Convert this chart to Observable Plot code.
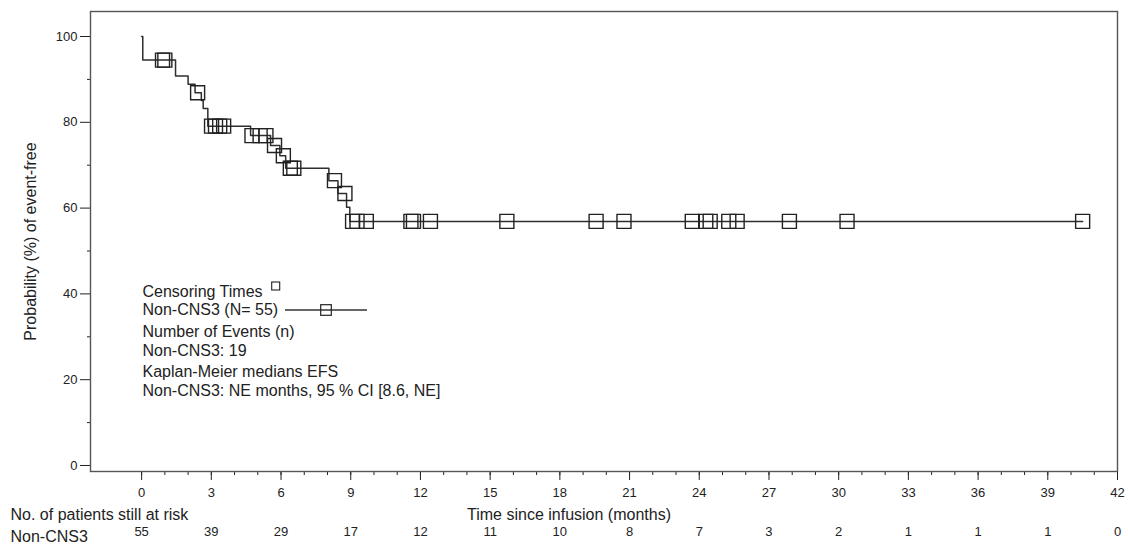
<!DOCTYPE html>
<html><head><meta charset="utf-8">
<script src="https://cdn.jsdelivr.net/npm/d3@7"></script>
<script src="https://cdn.jsdelivr.net/npm/@observablehq/plot@0.6"></script>
<style>
body{margin:0;background:#fff;}
#chart svg{display:block;}
</style>
</head><body><div id="chart"></div>
<script>
// Kaplan-Meier steps (time in months, survival %)
const stepTimes = [0, 0.05, 1.46, 2.0, 2.3, 2.57, 2.65, 2.85, 4.69, 5.55, 5.95, 6.2, 8.06, 8.45, 8.82, 8.96];
const stepSurv  = [100, 94.5, 90.8, 88.9, 86.9, 85.1, 83.2, 79.1, 76.9, 74.6, 72.2, 69.3, 66.4, 63.4, 60.2, 56.9];
// censoring times (months)
const censorTimes = [0.9, 1.0, 2.41, 3.01, 3.18, 3.36, 3.53, 4.75, 5.1, 5.35, 5.72, 6.1, 6.4, 6.55,
  8.3, 8.75, 9.08, 9.27, 9.67, 11.59, 11.7, 12.43, 15.72, 19.56, 20.76, 23.7, 24.28, 24.47,
  25.27, 25.63, 27.88, 30.36, 40.5];
const lastFollowUp = 40.5;
// risk table
const riskTimes  = [0, 3, 6, 9, 12, 15, 18, 21, 24, 27, 30, 33, 36, 39, 42];
const riskCounts = [55, 39, 29, 17, 12, 11, 10, 8, 7, 3, 2, 1, 1, 1, 0];
// axis ticks
const xTicks = [0, 3, 6, 9, 12, 15, 18, 21, 24, 27, 30, 33, 36, 39, 42];
const xMinorTicks = d3.range(0, 43, 1);
const yTicks = [0, 20, 40, 60, 80, 100];
const yMinorTicks = [10, 30, 50, 70, 90];
// texts
const legendLines = ["Censoring Times", "Non-CNS3 (N= 55)", "Number of Events (n)", "Non-CNS3: 19",
  "Kaplan-Meier medians EFS", "Non-CNS3: NE months, 95 % CI [8.6, NE]"];
const yLabel = "Probability (%) of event-free";
const xLabel = "Time since infusion (months)";
const riskTitle = "No. of patients still at risk";
const groupName = "Non-CNS3";

// derived tables
const curve = stepTimes.map((t, i) => ({t, s: stepSurv[i]}));
curve.push({t: lastFollowUp, s: stepSurv[stepSurv.length - 1]});
const survAt = t => { let s = 100; for (let i = 0; i < stepTimes.length; i++) if (stepTimes[i] <= t) s = stepSurv[i]; return s; };
const censors = censorTimes.map(t => ({t, s: survAt(t)}));
const risk = riskTimes.map((t, i) => ({t, n: riskCounts[i]}));

const FONT = "'Liberation Sans', Arial, sans-serif";
const legendDy = [280.7, 298.3, 320.7, 339, 360.7, 379];

function legendGlyphs(index, scales, values, dims) {
  const g = d3.create("svg:g").attr("fill", "none").attr("stroke", "#222");
  const ox = dims.marginLeft, oy = dims.marginTop;
  g.append("rect").attr("x", ox + 185.7 - 4).attr("y", oy + 275 - 4).attr("width", 8).attr("height", 8).attr("stroke-width", 1.1);
  g.append("line").attr("x1", ox + 195).attr("x2", ox + 277).attr("y1", oy + 299).attr("y2", oy + 299).attr("stroke", "#333").attr("stroke-width", 1.3);
  g.append("rect").attr("x", ox + 236 - 5.3).attr("y", oy + 299 - 5.3).attr("width", 10.6).attr("height", 10.6).attr("stroke-width", 1.2);
  return g.node();
}

const plot = Plot.plot({
  width: 1128, height: 544,
  marginLeft: 90, marginRight: 11, marginTop: 11, marginBottom: 73,
  style: {fontFamily: FONT, fontSize: "13px", color: "#222", background: "#fff", overflow: "visible"},
  x: {domain: [-2.2, 42]},
  y: {domain: [-1.4, 105.83]},
  marks: [
    Plot.axisY({ticks: yTicks, tickSize: 10, tickPadding: 3, label: null, fontSize: 13}),
    Plot.axisY({ticks: yMinorTicks, tickSize: 3, text: null, label: null}),
    Plot.axisX({ticks: xTicks, tickSize: 9, tickPadding: 7, label: null, fontSize: 13}),
    Plot.axisX({ticks: xMinorTicks, tickSize: 4, text: null, label: null}),
    Plot.frame({stroke: "#555", strokeWidth: 1.4}),
    Plot.line(curve, {x: "t", y: "s", curve: "step-after", stroke: "#2e2e2e", strokeWidth: 1.5}),
    Plot.dot(censors, {x: "t", y: "s", symbol: "square", r: 7.9, stroke: "#222", strokeWidth: 1.4, fill: "none"}),
    ...legendLines.map((s, i) => Plot.text([s], {frameAnchor: "top-left", dx: 52, dy: legendDy[i], textAnchor: "start", lineAnchor: "middle", fontSize: 16, fill: "#222"})),
    legendGlyphs,
    Plot.text([yLabel], {frameAnchor: "left", dx: -60, rotate: -90, textAnchor: "middle", lineAnchor: "middle", fontSize: 16, fill: "#222"}),
    Plot.text([xLabel], {frameAnchor: "bottom", dx: -35, dy: 43, lineAnchor: "middle", fontSize: 16, fill: "#222"}),
    Plot.text([riskTitle], {frameAnchor: "bottom-left", dx: -80, dy: 43, textAnchor: "start", lineAnchor: "middle", fontSize: 16, fill: "#222"}),
    Plot.text([groupName], {frameAnchor: "bottom-left", dx: -80, dy: 65, textAnchor: "start", lineAnchor: "middle", fontSize: 16, fill: "#222"}),
    Plot.text(risk, {x: "t", text: "n", frameAnchor: "bottom", dy: 60, lineAnchor: "middle", fontSize: 13, fill: "#222"})
  ]
});
document.getElementById("chart").appendChild(plot);
</script>
</body></html>
